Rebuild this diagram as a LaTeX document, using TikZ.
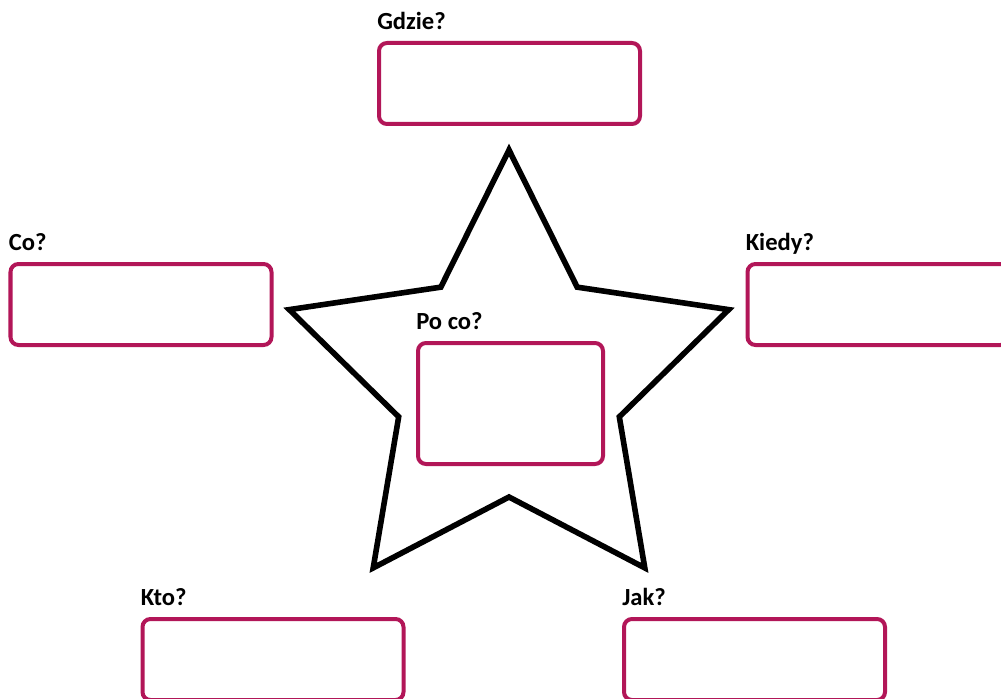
\documentclass[tikz,border=0pt]{standalone}
\usepackage{fontspec}
\setmainfont{Carlito}
\usepackage{tikz}
\usetikzlibrary{positioning}
\definecolor{boxred}{RGB}{178,22,88}

\begin{document}
\begin{tikzpicture}[
  answer/.style={rectangle, rounded corners=0.2cm, draw=boxred, line width=0.1cm, minimum width=6.525cm, minimum height=2.025cm},
  question/.style={inner sep=0pt, text depth=0pt, font=\bfseries\fontsize{17.5}{21}\selectfont},
  starline/.style={line width=0.14cm, line join=miter}
]
\path[use as bounding box, clip] (0,0) rectangle (25.025,17.45);
% star in the middle
\coordinate (hub) at (12.725,7.925);
\draw[starline, shift={(hub)}] (90:5.775) -- (126:2.9) -- (162:5.775) -- (198:2.9) -- (234:5.775)
  -- (270:2.9) -- (306:5.775) -- (342:2.9) -- (18:5.775) -- (54:2.9) -- cycle;
% answer boxes
\node[answer] (gdzie) at (12.7375,15.3625) {};
\node[answer] (co) at (3.525,9.8375) {};
\node[answer] (kiedy) at (21.95,9.8375) {};
\node[answer, minimum width=4.625cm, minimum height=3.025cm] (poco) at (12.7625,7.3625) {};
\node[answer] (kto) at (6.825,0.9625) {};
\node[answer] (jak) at (18.8625,0.9625) {};
% questions
\node[question, above right=0.29cm and 0cm of gdzie.north west] (gdzieQ) {Gdzie?};
\node[question, above right=0.29cm and 0cm of co.north west] (coQ) {Co?};
\node[question, above right=0.29cm and 0cm of kiedy.north west] (kiedyQ) {Kiedy?};
\node[question, above right=0.29cm and 0cm of poco.north west] (pocoQ) {Po co?};
\node[question, above right=0.29cm and 0cm of kto.north west] (ktoQ) {Kto?};
\node[question, above right=0.29cm and 0cm of jak.north west] (jakQ) {Jak?};
\end{tikzpicture}
\end{document}
